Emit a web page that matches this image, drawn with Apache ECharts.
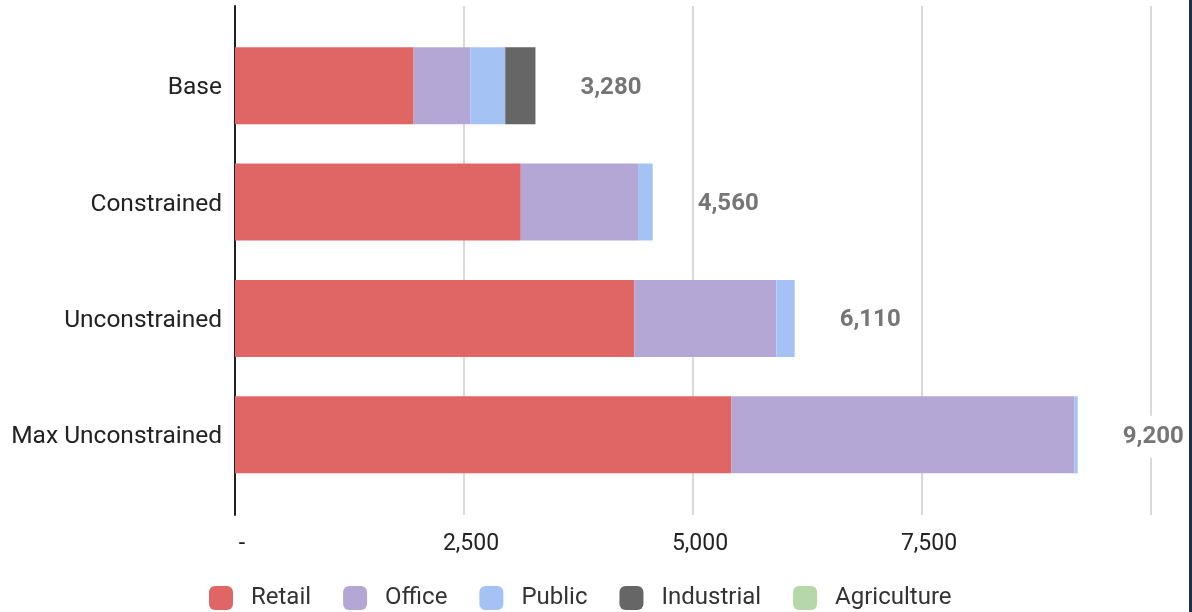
<!DOCTYPE html>
<html>
<head>
<meta charset="utf-8">
<script src="https://cdn.jsdelivr.net/npm/echarts@6/dist/echarts.min.js"></script>
<style>
  html, body { margin: 0; padding: 0; background: #1b2f4d; }
  #chart { width: 1189px; height: 612px; background: #ffffff; }
</style>
</head>
<body>
<div id="chart"></div>
<script>
// Scenario categories (top to bottom)
const scenarios = ['Base', 'Constrained', 'Unconstrained', 'Max Unconstrained'];

// Floor area by land use for each scenario
const retail      = [1950, 3120, 4360, 5420];
const office      = [620, 1280, 1550, 3745];
const publicUse   = [380, 160, 200, 35];
const industrial  = [330, 0, 0, 0];
const agriculture = [0, 0, 0, 0];

// Value axis tick values
const xTicks = [0, 2500, 5000, 7500, 10000];

const totals = scenarios.map((_, i) =>
  retail[i] + office[i] + publicUse[i] + industrial[i] + agriculture[i]);

const fmt = v => v.toLocaleString('en-US');
const FONT = 'Roboto, "Noto Sans", sans-serif';

const chart = echarts.init(document.getElementById('chart'), null, { renderer: 'canvas' });

function stackSeries(name, data, color) {
  return {
    name: name,
    type: 'bar',
    stack: 'total',
    xAxisIndex: 0,
    yAxisIndex: 0,
    barWidth: 77,
    data: data,
    itemStyle: { color: color },
    emphasis: { disabled: true },
    z: 3
  };
}

const option = {
  animation: false,
  textStyle: { fontFamily: FONT },
  grid: [
    { left: 235, width: 916, top: 27.5, height: 465.5, containLabel: false },
    { left: 235, width: 916, top: 6, height: 509, containLabel: false }
  ],
  xAxis: [
    {
      type: 'value', gridIndex: 0, min: xTicks[0], max: xTicks[xTicks.length - 1], interval: 2500,
      show: false, splitLine: { show: false }
    },
    {
      type: 'value', gridIndex: 1, min: xTicks[0], max: xTicks[xTicks.length - 1], interval: 2500,
      axisLine: { show: false }, axisTick: { show: false },
      splitLine: { show: true, lineStyle: { color: '#cccccc', width: 1.5 } },
      axisLabel: {
        margin: 18,
        fontSize: 23,
        color: '#222222',
        fontFamily: FONT,
        padding: [0, 0, 0, 14],
        formatter: v => (v === 0 ? '-' : (v === 10000 ? '' : fmt(v)))
      }
    }
  ],
  yAxis: [
    {
      type: 'category', gridIndex: 0, data: scenarios, inverse: true,
      axisLine: { show: false }, axisTick: { show: false },
      axisLabel: {
        margin: 13,
        formatter: v => '{c|' + v + '}',
        rich: {
          c: { fontSize: 24.5, color: '#222222', fontFamily: FONT, padding: [5, 0, 0, 0] }
        }
      }
    },
    {
      type: 'value', gridIndex: 1, min: 0, max: 1,
      axisLine: { show: true, lineStyle: { color: '#222222', width: 2 } },
      axisTick: { show: false }, axisLabel: { show: false },
      splitLine: { show: false }
    }
  ],
  legend: {
    data: ['Retail', 'Office', 'Public', 'Industrial', 'Agriculture'],
    left: 209,
    top: 586,
    padding: 0,
    icon: 'roundRect',
    itemWidth: 24,
    itemHeight: 24,
    itemGap: 32,
    textStyle: { fontSize: 24, color: '#333333', fontFamily: FONT, padding: [0, 0, 0, 13] }
  },
  series: [
    stackSeries('Retail', retail, '#e06666'),
    stackSeries('Office', office, '#b4a7d6'),
    stackSeries('Public', publicUse, '#a4c2f4'),
    stackSeries('Industrial', industrial, '#666666'),
    stackSeries('Agriculture', agriculture, '#b6d7a8'),
    {
      name: 'Total',
      type: 'bar',
      xAxisIndex: 0,
      yAxisIndex: 0,
      barWidth: 77,
      barGap: '-100%',
      data: totals,
      itemStyle: { color: 'rgba(0,0,0,0)' },
      emphasis: { disabled: true },
      z: 2,
      label: {
        show: true,
        position: 'right',
        distance: 43,
        offset: [0, 2],
        formatter: p => fmt(p.value),
        fontFamily: FONT,
        fontSize: 24,
        fontWeight: 'bold',
        color: '#757575',
        backgroundColor: '#ffffff',
        padding: [10, 2, 8, 2]
      }
    }
  ]
};

chart.setOption(option);
</script>
</body>
</html>
